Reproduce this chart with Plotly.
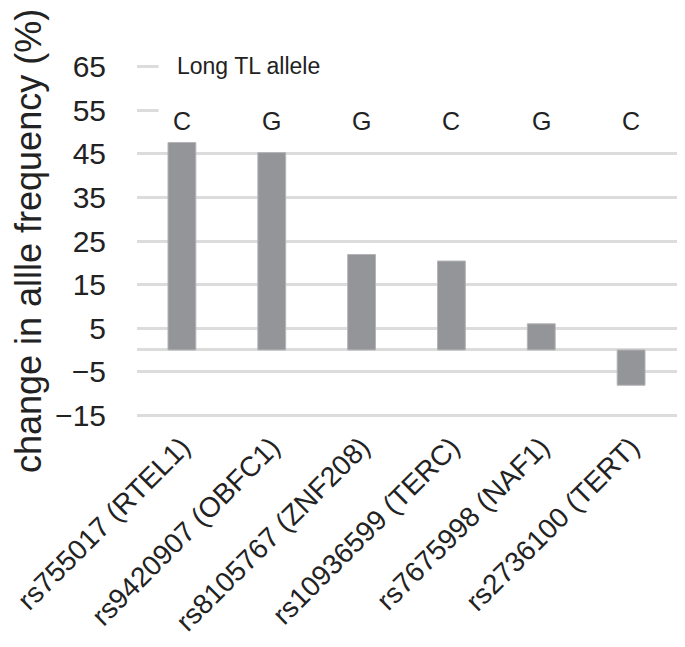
import plotly.graph_objects as go

# SNPs and change in allele frequency (%)
snps = ['rs755017 (RTEL1)', 'rs9420907 (OBFC1)', 'rs8105767 (ZNF208)',
        'rs10936599 (TERC)', 'rs7675998 (NAF1)', 'rs2736100 (TERT)']
change = [47.6, 45.3, 21.9, 20.4, 6.0, -8.1]
alleles = ['C', 'G', 'G', 'C', 'G', 'C']

BAR = '#939598'
GRID = '#dcdcdc'
TXT = '#222222'

fig = go.Figure()

fig.add_trace(go.Bar(
    x=snps,
    y=change,
    marker=dict(color=BAR, line=dict(color='#b5b5b7', width=1)),
    width=0.31,
    showlegend=False,
))

# allele letters above the bars
for snp, a in zip(snps, alleles):
    fig.add_annotation(x=snp, y=52.6, text=a, showarrow=False,
                       xanchor='center', yanchor='middle',
                       font=dict(size=25, color=TXT))

fig.add_annotation(xref='paper', x=0.069, y=65.2, text='Long TL allele',
                   showarrow=False, xanchor='left', yanchor='middle',
                   font=dict(size=23, color=TXT))

# white legend box hides the top gridlines
fig.add_shape(type='rect', xref='x', yref='y', x0=-0.26, x1=5.6, y0=49, y1=70,
              fillcolor='white', line=dict(width=0), layer='between')

# page body has an 8px margin, so the figure is offset by 8px
fig.update_layout(
    width=677, height=639,
    margin=dict(l=129, r=0, t=50, b=223),
    plot_bgcolor='white', paper_bgcolor='white',
    font=dict(family='Liberation Sans, Arial, sans-serif', color=TXT),
    bargap=0.69,
)

fig.update_yaxes(
    range=[-17, 67],
    tick0=-15, dtick=10,
    showgrid=True, gridcolor=GRID, gridwidth=3,
    zeroline=True, zerolinecolor=GRID, zerolinewidth=3,
    showline=False, ticks='',
    ticklabelstandoff=30,
    tickfont=dict(size=30, color=TXT),
    automargin=False,
    title=dict(text='change in allle frequency (%)', font=dict(size=36, color=TXT), standoff=14),
)

fig.update_xaxes(
    showgrid=False, showline=False, ticks='',
    tickangle=-45,
    ticklabelstandoff=0,
    automargin=False,
    tickfont=dict(size=28, color=TXT),
)

fig.write_html('out.html')
